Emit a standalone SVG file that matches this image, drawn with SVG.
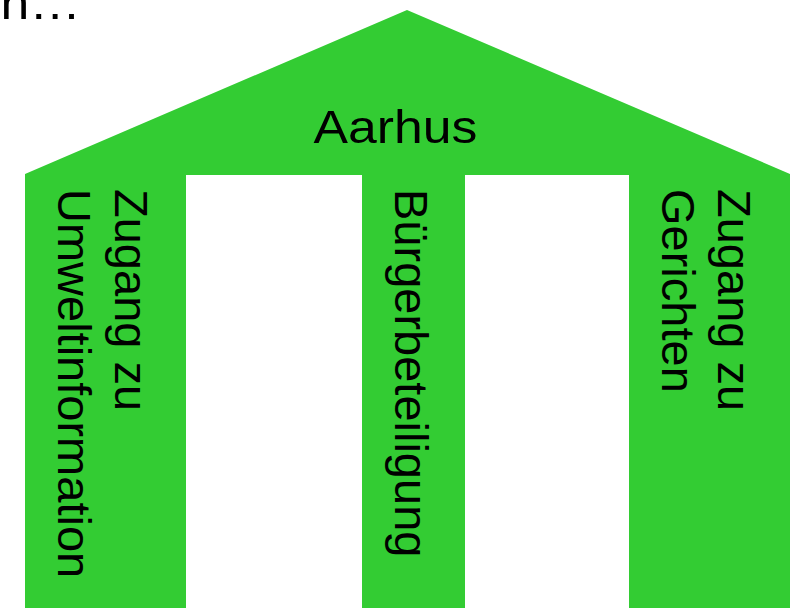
<svg xmlns="http://www.w3.org/2000/svg" width="794" height="608" viewBox="0 0 794 608">
  <style>
    .house { fill: #33cc33; }
    .lbl { font-family: "Liberation Sans", Arial, Helvetica, sans-serif; font-size: 47px; fill: #000000; }
  </style>
  <rect width="794" height="608" fill="#ffffff"/>

  <!-- leftover caption line, clipped at the top edge -->
  <text class="lbl" transform="translate(0.6,19) scale(1.1,1)">n…</text>

  <!-- temple: roof with three pillars -->
  <g id="temple">
    <path class="house" d="M25,608 L25,174 L407,10 L790,174 L790,608 L629,608 L629,175 L465,175 L465,608 L362,608 L362,175 L186,175 L186,608 Z"/>
  </g>

  <g id="roof">
    <text class="lbl" text-anchor="middle" transform="translate(395.5,143) scale(1.1,1)">Aarhus</text>
  </g>

  <g id="pillar-left">
    <text class="lbl" transform="translate(115,189) rotate(90)">Zugang zu</text>
    <text class="lbl" transform="translate(58,189) rotate(90)">Umweltinformation</text>
  </g>

  <g id="pillar-middle">
    <text class="lbl" transform="translate(395,189) rotate(90)">Bürgerbeteiligung</text>
  </g>

  <g id="pillar-right">
    <text class="lbl" transform="translate(718,189) rotate(90)">Zugang zu</text>
    <text class="lbl" transform="translate(662,189) rotate(90)">Gerichten</text>
  </g>
</svg>
